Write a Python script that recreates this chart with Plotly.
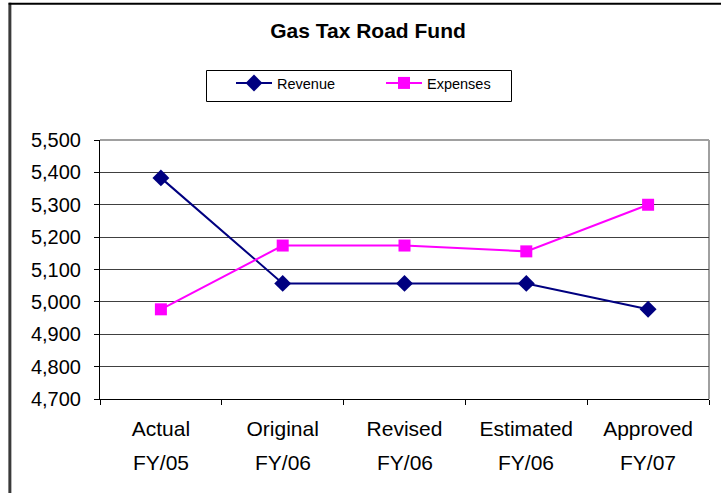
import plotly.graph_objects as go

# Fund categories (two-line labels) and series values
cat_top = ["Actual", "Original", "Revised", "Estimated", "Approved"]
cat_bottom = ["FY/05", "FY/06", "FY/06", "FY/06", "FY/07"]
revenue = [5383, 5057, 5057, 5057, 4977]
expenses = [4977, 5174, 5174, 5156, 5300]
y_ticks = [4700, 4800, 4900, 5000, 5100, 5200, 5300, 5400, 5500]

categories = [f"{a} {b}" for a, b in zip(cat_top, cat_bottom)]
FONT = "Liberation Sans, Arial, sans-serif"
W, H = 721, 493

fig = go.Figure()
fig.add_trace(go.Scatter(
    x=categories, y=revenue, name="Revenue", mode="lines+markers",
    line=dict(color="#000080", width=2),
    marker=dict(symbol="diamond", size=13, color="#000080"),
))
fig.add_trace(go.Scatter(
    x=categories, y=expenses, name="Expenses", mode="lines+markers",
    line=dict(color="#FF00FF", width=2),
    marker=dict(symbol="square", size=12, color="#FF00FF"),
))

# second line of each category label
for c, b in zip(categories, cat_bottom):
    fig.add_annotation(x=c, xref="x", y=-0.245, yref="paper", text=b,
                       showarrow=False, yanchor="middle",
                       font=dict(family=FONT, size=21, color="black"))

# outer chart frame (left and top edges)
fig.add_shape(type="line", xref="paper", yref="paper",
              x0=-0.148, x1=-0.148, y0=1.53, y1=-0.5,
              line=dict(color="#3a3a3a", width=3))
fig.add_shape(type="line", xref="paper", yref="paper",
              x0=-0.15, x1=1.1, y0=1.526, y1=1.526,
              line=dict(color="black", width=2))
# plot-area frame (top and right edges)
fig.add_shape(type="line", xref="paper", yref="paper",
              x0=0, x1=1, y0=1, y1=1, layer="below",
              line=dict(color="#a0a0a0", width=2))
fig.add_shape(type="line", xref="paper", yref="paper",
              x0=1, x1=1, y0=0, y1=1, layer="below",
              line=dict(color="#a0a0a0", width=2))
# legend frame
pl, pr, pt, pb = 100, 709, 140, 399
def px_x(v):
    return (v - pl) / (pr - pl)
def px_y(v):
    return (pb - v) / (pb - pt)
fig.add_shape(type="rect", xref="paper", yref="paper",
              x0=px_x(206.5), x1=px_x(511.5), y0=px_y(70.5), y1=px_y(101.5),
              line=dict(color="black", width=1), fillcolor="white", layer="below")

fig.update_layout(
    width=W, height=H,
    margin=dict(l=pl, r=W - pr, t=pt, b=H - pb),
    paper_bgcolor="white", plot_bgcolor="white",
    font=dict(family=FONT, color="black"),
    title=dict(text="<b>Gas Tax Road Fund</b>", x=368 / W, xanchor="center",
               y=1 - 31 / H, yanchor="middle", yref="container",
               font=dict(family=FONT, size=21, color="black")),
    legend=dict(orientation="h", x=231 / W, xref="container", xanchor="left",
                y=1 - 67 / H, yref="container", yanchor="top",
                borderwidth=0, bgcolor="rgba(0,0,0,0)",
                font=dict(family=FONT, size=14.5, color="black"),
                entrywidth=99, itemwidth=36),
    showlegend=True,
    xaxis=dict(
        range=[-0.5, 4.5],
        tickmode="array", tickvals=categories, ticktext=cat_top,
        tickson="boundaries", ticks="outside", ticklen=5, tickcolor="black",
        showline=True, linecolor="black", linewidth=1,
        showgrid=False, tickfont=dict(family=FONT, size=21, color="black"),
        ticklabelstandoff=11,
    ),
    yaxis=dict(
        range=[4700, 5500], tickvals=y_ticks, tickformat=",d",
        ticks="outside", ticklen=5, tickcolor="black",
        showline=True, linecolor="black", linewidth=1,
        showgrid=True, gridcolor="#404040", gridwidth=1,
        tickfont=dict(family=FONT, size=20, color="black"),
        ticklabelstandoff=9, zeroline=False,
    ),
)

fig.write_html("out.html")
